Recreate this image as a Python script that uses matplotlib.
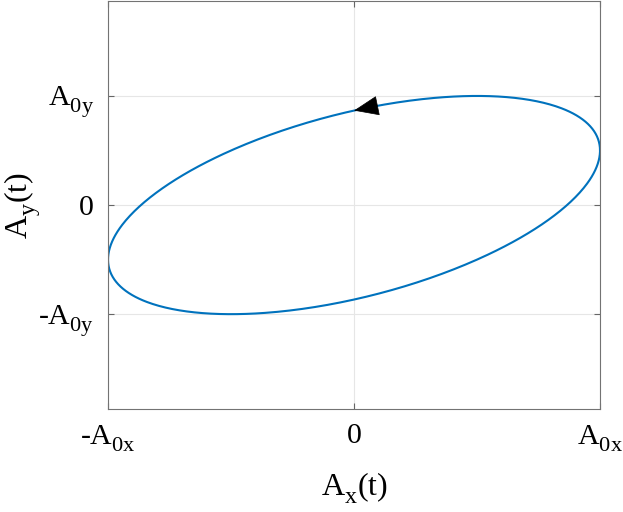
import numpy as np
import matplotlib
matplotlib.use('Agg')
import matplotlib.pyplot as plt
from matplotlib import _mathtext

plt.rcParams['font.family'] = ['Liberation Serif', 'DejaVu Serif']
plt.rcParams['mathtext.fontset'] = 'custom'
plt.rcParams['mathtext.rm'] = 'Liberation Serif'
plt.rcParams['mathtext.it'] = 'Liberation Serif'

# MATLAB-style tex subscripts: a bit bigger and dropped lower than mathtext's default
_mathtext.SHRINK_FACTOR = 0.75
_mathtext.FontConstantsBase.sub1 = 0.55
_mathtext.FontConstantsBase.sub2 = 0.7

# ellipse parameters (normalised amplitudes, phase lag of Ay)
amp_x = 1.0
amp_y = 1.0
phase_deg = 60.0
arrow_t = np.pi / 2  # arrow sits where Ax crosses 0 on the upper branch

x_ticks = [-1, 0, 1]
x_labels = ['-A$_{\\mathrm{0x}}$', '0', 'A$_{\\mathrm{0x}}$']
y_ticks = [-1, 0, 1]
y_labels = ['-A$_{\\mathrm{0y}}$', '0', 'A$_{\\mathrm{0y}}$']

t = np.linspace(0, 2 * np.pi, 600)
phi = np.deg2rad(phase_deg)
ax_t = amp_x * np.cos(t)
ay_t = amp_y * np.cos(t - phi)

fig = plt.figure(figsize=(6.23, 5.12), dpi=100)
ax = fig.add_axes([0.1734, 0.201, 0.7897, 0.797])

ax.plot(ax_t, ay_t, color='#0072BD', lw=1.5)

tip = (amp_x * np.cos(arrow_t), amp_y * np.cos(arrow_t - phi))
tail = (amp_x * np.cos(arrow_t - 0.08), amp_y * np.cos(arrow_t - 0.08 - phi))
ax.annotate('', xy=tip, xytext=tail,
            arrowprops=dict(arrowstyle='-|>,head_length=0.75,head_width=0.3',
                            color='k', lw=0.5, mutation_scale=22,
                            shrinkA=0, shrinkB=0))

ax.set_xlim(-1, 1)
ax.set_ylim(-1.87, 1.87)
ax.set_xticks(x_ticks)
ax.set_xticklabels(x_labels)
ax.set_yticks(y_ticks)
ax.set_yticklabels(y_labels)
ax.grid(True, color='#e6e6e6', lw=0.8)
ax.set_axisbelow(True)
ax.tick_params(direction='in', length=4, width=0.8, color='0.4',
               labelsize=21.5, top=True, right=True, pad=10)
for s in ax.spines.values():
    s.set_color('0.45')
    s.set_linewidth(0.8)

ax.set_xlabel('A$_{\\mathrm{x}}$(t)', fontsize=23)
ax.set_ylabel('A$_{\\mathrm{y}}$(t)', fontsize=23)
ax.xaxis.set_label_coords(0.5, -0.152)
ax.yaxis.set_label_coords(-0.135, 0.5)

fig.savefig('out.png', dpi=100)
